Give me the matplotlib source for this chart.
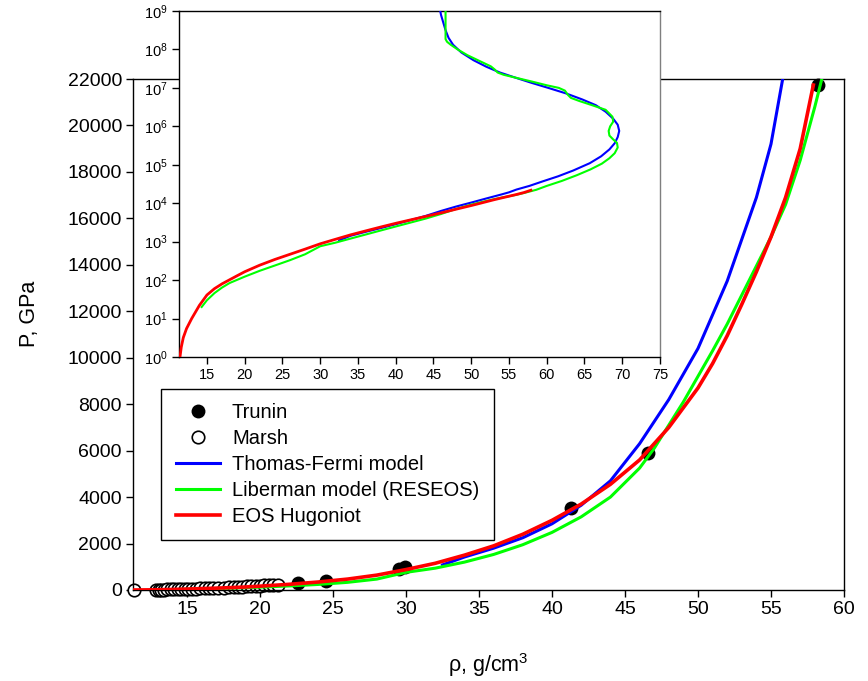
import matplotlib
matplotlib.use('Agg')
import matplotlib.pyplot as plt
from matplotlib.ticker import FixedLocator, NullLocator, LogLocator

plt.rcParams['font.family'] = ['Liberation Sans', 'DejaVu Sans']
plt.rcParams['mathtext.fontset'] = 'custom'
plt.rcParams['mathtext.rm'] = 'Liberation Sans'
plt.rcParams['mathtext.it'] = 'Liberation Sans'
plt.rcParams['mathtext.bf'] = 'Liberation Sans'

# ---------------- data ----------------
trunin_rho = [22.6, 24.5, 29.5, 29.9, 41.3, 46.6, 58.2]
trunin_p = [300, 390, 900, 980, 3530, 5900, 21750]

marsh_rho = [11.34, 12.85, 13.05, 13.25, 13.45, 13.65, 13.9, 14.1, 14.35, 14.6,
             14.85, 15.1, 15.35, 15.6, 15.9, 16.2, 16.5, 16.8, 17.1, 17.5,
             17.9, 18.2, 18.5, 18.8, 19.1, 19.4, 19.7, 20.0, 20.3, 20.6, 20.9, 21.2]
marsh_p = [0, 12, 15, 18, 21, 24, 28, 32, 36, 40,
           45, 50, 55, 60, 66, 72, 80, 88, 95, 105,
           115, 125, 135, 145, 155, 165, 175, 185, 195, 205, 215, 225]

# Thomas-Fermi model
tf_rho = [32.5, 34, 36, 38, 40, 42, 44, 46, 48, 50, 52, 54, 55, 56,
          57.7, 59.5, 61.5, 63.5, 65.7, 67.2, 68.3, 69.0, 69.4, 69.6, 69.4, 68.8,
          67.8, 66.5, 64.7, 62.5, 60.2, 58.0, 55.8, 53.8, 52.0, 50.3, 48.7, 47.6,
          47.0, 46.6, 46.3, 46.0, 45.8]
tf_p = [1080, 1420, 1800, 2250, 2850, 3650, 4700, 6300, 8200, 10400, 13300, 16900, 19200, 22700,
        2.82e4, 3.72e4, 5.01e4, 7.08e4, 1.10e5, 1.66e5, 2.51e5, 3.63e5, 5.25e5, 7.59e5, 1.10e6,
        1.58e6, 2.40e6, 3.55e6, 5.01e6, 7.24e6, 1.0e7, 1.35e7, 1.86e7, 2.51e7, 3.55e7, 5.25e7,
        8.32e7, 1.32e8, 2.0e8, 3.16e8, 5.0e8, 7.9e8, 1.26e9]

# Liberman model (RESEOS)
lib_rho = [14.3, 15, 16, 17, 18, 20, 22, 24, 26, 28, 30, 32, 34, 36, 38, 40, 42, 44,
           46, 47, 48, 49, 50, 51, 52, 53, 54, 55, 56, 57, 58, 58.6,
           60.0, 62.0, 64.0, 65.8, 67.3, 68.3, 69.0, 69.4, 69.3, 68.8, 68.3, 68.2, 68.4,
           68.8, 68.7, 67.8, 66.0, 64.3, 63.2, 62.8, 62.4, 61.6, 60.0, 58.1, 56.0, 54.3,
           53.5, 53.1, 52.6, 51.1, 49.5, 48.2, 47.3, 46.8, 46.6, 46.6]
lib_p = [20, 30, 46, 64, 84, 123, 175, 240, 330, 470, 760, 940, 1200, 1530, 1950, 2480, 3150, 4000,
         5250, 6100, 7100, 8100, 9200, 10300, 11450, 12700, 13950, 15200, 16600, 18500, 20800, 22300,
         2.82e4, 3.80e4, 5.37e4, 7.59e4, 1.07e5, 1.48e5, 2.0e5, 2.82e5, 3.72e5, 4.57e5, 5.75e5,
         7.59e5, 1.0e6, 1.32e6, 1.78e6, 2.69e6, 3.55e6, 4.57e6, 5.5e6, 6.61e6, 8.51e6, 1.0e7,
         1.17e7, 1.45e7, 1.82e7, 2.19e7, 2.51e7, 3.02e7, 3.63e7, 5.01e7, 7.08e7, 1.0e8, 1.32e8,
         1.58e8, 1.86e8, 1.6e9]

# EOS Hugoniot
eos_rho = [11.34, 11.43, 11.6, 11.87, 12.3, 12.98, 14, 15, 16, 17, 18, 19, 20, 22, 24, 26, 28,
           30, 32, 34, 36, 38, 40, 42, 44, 46, 48, 50, 51, 52, 53, 54, 55, 56, 57, 57.9]
eos_p = [0, 1, 1.8, 3.2, 5.5, 10, 22, 41, 60, 80, 102, 130, 165, 245, 345, 470, 640,
         880, 1150, 1500, 1900, 2400, 3000, 3700, 4550, 5600, 7000, 8700, 9750, 10950,
         12300, 13700, 15200, 16900, 19000, 21740]

main_xticks = [15, 20, 25, 30, 35, 40, 45, 50, 55, 60]
main_yticks = list(range(0, 22001, 2000))
inset_xticks = [15, 20, 25, 30, 35, 40, 45, 50, 55, 60, 65, 70, 75]

BLUE = '#0000ff'
GREEN = '#00ff00'
RED = '#ff0000'

W, H = 868, 681
fig = plt.figure(figsize=(W / 100, H / 100), dpi=100)

# ---------------- main axes ----------------
ax = fig.add_axes([133 / W, 1 - 590 / H, (844 - 133) / W, (590 - 79) / H])
h_tr, = ax.plot(trunin_rho, trunin_p, 'o', color='black', ms=10, mew=0,
                linestyle='none', clip_on=False, zorder=2, label='Trunin')
h_ma, = ax.plot(marsh_rho, marsh_p, 'o', mfc='white', mec='black', ms=9, mew=1.2,
                linestyle='none', clip_on=False, zorder=2, label='Marsh')
h_tf, = ax.plot(tf_rho, tf_p, color=BLUE, lw=2.2, zorder=3, label='Thomas-Fermi model')
h_li, = ax.plot(lib_rho, lib_p, color=GREEN, lw=2.2, zorder=3,
                label='Liberman model (RESEOS)')
h_eo, = ax.plot(eos_rho, eos_p, color=RED, lw=2.6, zorder=3, label='EOS Hugoniot')

ax.set_xlim(11.3, 60)
ax.set_ylim(0, 22000)
ax.xaxis.set_major_locator(FixedLocator(main_xticks))
ax.yaxis.set_major_locator(FixedLocator(main_yticks))
ax.tick_params(direction='out', length=5, width=1, labelsize=14, pad=3, colors='black')
for s in ax.spines.values():
    s.set_linewidth(1)
    s.set_color('black')

fig.text(488 / W, 1 - 665 / H, 'ρ, g/cm$^3$', ha='center', va='center', fontsize=15.5)
fig.text(30 / W, 1 - 314 / H, 'P, GPa', ha='center', va='center', rotation=90, fontsize=15.5)

leg = ax.legend(handles=[h_tr, h_ma, h_tf, h_li, h_eo], loc='upper left',
                bbox_to_anchor=(161 / W, 1 - 389 / H), bbox_transform=fig.transFigure,
                borderaxespad=0, fontsize=14.5, frameon=True, fancybox=False, shadow=False,
                edgecolor='black', framealpha=1, numpoints=1, handlelength=2.2,
                handletextpad=0.6, labelspacing=0.34, borderpad=0.72)
leg.get_frame().set_linewidth(1)
leg.set_zorder(10)

# ---------------- inset axes ----------------
axi = fig.add_axes([179 / W, 1 - 357 / H, (660 - 179) / W, (357 - 11) / H])
axi.set_facecolor('white')
axi.plot(tf_rho, tf_p, color=BLUE, lw=1.5, zorder=3)
axi.plot(lib_rho, lib_p, color=GREEN, lw=1.5, zorder=3)
axi.plot(eos_rho, eos_p, color=RED, lw=2.0, zorder=4)
axi.set_yscale('log', nonpositive='clip')
axi.set_xlim(11.3, 75)
axi.set_ylim(1, 1e9)
axi.xaxis.set_major_locator(FixedLocator(inset_xticks))
axi.yaxis.set_major_locator(LogLocator(base=10, numticks=20))
axi.yaxis.set_minor_locator(NullLocator())
axi.tick_params(direction='out', length=5, width=1, labelsize=10.5, pad=3, colors='black')
for s in axi.spines.values():
    s.set_linewidth(1)
    s.set_color('black')
axi.spines['right'].set_color('#7f7f7f')

fig.savefig('out.png', dpi=100)
